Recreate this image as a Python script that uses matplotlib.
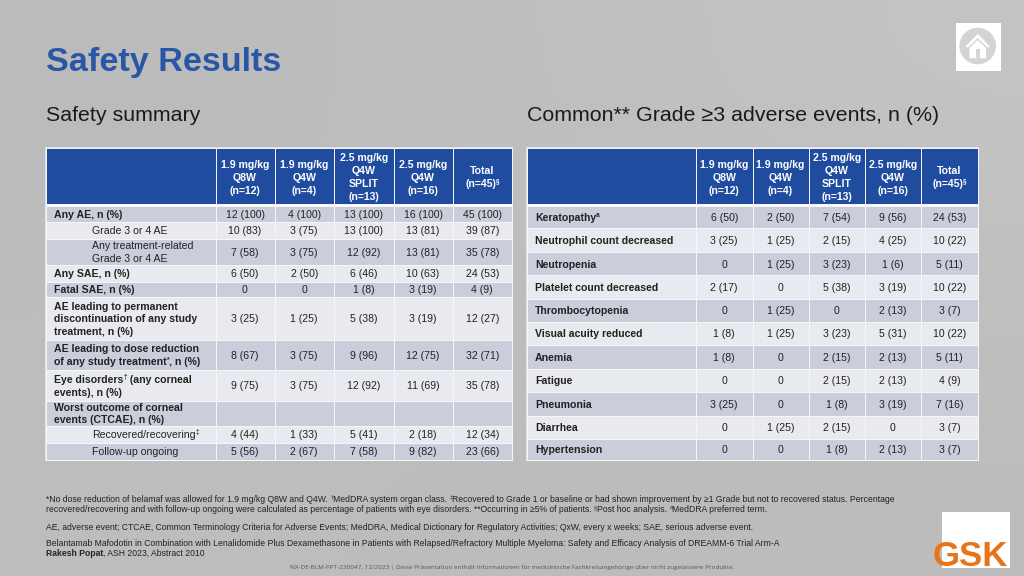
import numpy as np
import matplotlib
matplotlib.use("Agg")
import matplotlib.pyplot as plt
from matplotlib.patches import Rectangle, Circle, Polygon

plt.rcParams["font.family"] = ["Liberation Sans", "DejaVu Sans"]

# ---- data
headers = ["1.9 mg/kg\nQ8W\n(n=12)", "1.9 mg/kg\nQ4W\n(n=4)", "2.5 mg/kg\nQ4W\nSPLIT\n(n=13)",
           "2.5 mg/kg\nQ4W\n(n=16)", "Total\n(n=45)^§^"]

summary_labels = ["Any AE, n (%)", "Grade 3 or 4 AE", "Any treatment-related\nGrade 3 or 4 AE",
                  "Any SAE, n (%)", "Fatal SAE, n (%)",
                  "AE leading to permanent\ndiscontinuation of any study\ntreatment, n (%)",
                  "AE leading to dose reduction\nof any study treatment^*^, n (%)",
                  "Eye disorders^†^ (any corneal\nevents), n (%)",
                  "Worst outcome of corneal\nevents (CTCAE), n (%)",
                  "Recovered/recovering^‡^", "Follow-up ongoing"]
summary_indented = [1, 2, 9, 10]
summary_values = [
    ["12 (100)", "4 (100)", "13 (100)", "16 (100)", "45 (100)"],
    ["10 (83)", "3 (75)", "13 (100)", "13 (81)", "39 (87)"],
    ["7 (58)", "3 (75)", "12 (92)", "13 (81)", "35 (78)"],
    ["6 (50)", "2 (50)", "6 (46)", "10 (63)", "24 (53)"],
    ["0", "0", "1 (8)", "3 (19)", "4 (9)"],
    ["3 (25)", "1 (25)", "5 (38)", "3 (19)", "12 (27)"],
    ["8 (67)", "3 (75)", "9 (96)", "12 (75)", "32 (71)"],
    ["9 (75)", "3 (75)", "12 (92)", "11 (69)", "35 (78)"],
    ["", "", "", "", ""],
    ["4 (44)", "1 (33)", "5 (41)", "2 (18)", "12 (34)"],
    ["5 (56)", "2 (67)", "7 (58)", "9 (82)", "23 (66)"],
]

events_labels = ["Keratopathy^a^", "Neutrophil count decreased", "Neutropenia", "Platelet count decreased",
                 "Thrombocytopenia", "Visual acuity reduced", "Anemia", "Fatigue", "Pneumonia",
                 "Diarrhea", "Hypertension"]
events_values = [
    ["6 (50)", "2 (50)", "7 (54)", "9 (56)", "24 (53)"],
    ["3 (25)", "1 (25)", "2 (15)", "4 (25)", "10 (22)"],
    ["0", "1 (25)", "3 (23)", "1 (6)", "5 (11)"],
    ["2 (17)", "0", "5 (38)", "3 (19)", "10 (22)"],
    ["0", "1 (25)", "0", "2 (13)", "3 (7)"],
    ["1 (8)", "1 (25)", "3 (23)", "5 (31)", "10 (22)"],
    ["1 (8)", "0", "2 (15)", "2 (13)", "5 (11)"],
    ["0", "0", "2 (15)", "2 (13)", "4 (9)"],
    ["3 (25)", "0", "1 (8)", "3 (19)", "7 (16)"],
    ["0", "1 (25)", "2 (15)", "0", "3 (7)"],
    ["0", "0", "1 (8)", "2 (13)", "3 (7)"],
]

footnotes = [
    "*No dose reduction of belamaf was allowed for 1.9 mg/kg Q8W and Q4W. ^†^MedDRA system organ class. ^‡^Recovered to Grade 1 or baseline or had shown improvement by ≥1 Grade but not to recovered status. Percentage",
    "recovered/recovering and with follow-up ongoing were calculated as percentage of patients with eye disorders. **Occurring in ≥5% of patients. ^§^Post hoc analysis. ^a^MedDRA preferred term.",
    "AE, adverse event; CTCAE, Common Terminology Criteria for Adverse Events; MedDRA, Medical Dictionary for Regulatory Activities; QxW, every x weeks; SAE, serious adverse event.",
    "Belantamab Mafodotin in Combination with Lenalidomide Plus Dexamethasone in Patients with Relapsed/Refractory Multiple Myeloma: Safety and Efficacy Analysis of DREAMM-6 Trial Arm-A",
]
footnote_y = [502, 512.5, 529.5, 545.5]

# ---- layout (pixels)
summary_x = [46, 215.5, 274.5, 334, 393.5, 452.5, 512]
summary_y = [206, 222.2, 239, 264.6, 281.6, 297.2, 340, 370, 400.8, 425.6, 442.8, 459.5]
events_x = [527, 696, 752.5, 808.5, 865, 921, 978]
events_y = [206, 228.4, 252.2, 275.4, 298.6, 321.6, 345.4, 368.8, 392.2, 415.5, 438.8, 459.5]
header_top = 148
header_bottom = 204

BLUE = "#1f4c9e"
DARK = "#c9ceda"
LIGHT = "#e8eaef"
GRID = "#f6f7fa"
TEXT = "#222222"
SIZE = 7.6
NOTE = 6.19
LINE = 12.9

fig = plt.figure(figsize=(10.24, 5.76), dpi=100)
ax = fig.add_axes([0, 0, 1, 1])
ax.set_xlim(0, 1024)
ax.set_ylim(576, 0)
ax.axis("off")

# soft grey slide background
bg = np.array([[0.730, 0.740, 0.750, 0.765],
               [0.735, 0.740, 0.745, 0.755],
               [0.740, 0.740, 0.740, 0.745],
               [0.740, 0.738, 0.735, 0.735]])
ax.imshow(bg, cmap="gray", vmin=0, vmax=1, extent=[0, 1024, 576, 0], aspect="auto",
          interpolation="bicubic", zorder=0)
ax.set_xlim(0, 1024)
ax.set_ylim(576, 0)


def rich(x, y, s, size=SIZE, weight="normal", color=TEXT, ha="left"):
    # text with ^sup^ parts, y is the baseline
    r = fig.canvas.get_renderer()
    parts = s.split("^")
    items = []
    total = 0
    for i, p in enumerate(parts):
        if p == "":
            continue
        sup = i % 2 == 1
        t = ax.text(0, y - (size * 0.5 if sup else 0), p, fontsize=size * 0.62 if sup else size,
                    fontweight=weight, color=color, va="baseline", ha="left", zorder=5)
        # bars either side keep the blanks in the measured width
        probe = ax.text(0, 0, "|" + p + "|", fontsize=t.get_fontsize(), fontweight=weight, alpha=0)
        bar = ax.text(0, 0, "||", fontsize=t.get_fontsize(), fontweight=weight, alpha=0)
        w = probe.get_window_extent(r).width - bar.get_window_extent(r).width
        probe.remove()
        bar.remove()
        items.append((t, w))
        total += w
    start = x - total / 2 if ha == "center" else x
    for t, w in items:
        t.set_x(start)
        start += w
    return start


def block(x, yc, s, **kw):
    # several lines centred on yc
    lines = s.split("\n")
    for i, line in enumerate(lines):
        rich(x, yc + (i - (len(lines) - 1) / 2) * LINE + 3.8, line, **kw)


def draw_table(xs, ys, labels, values, indented):
    ax.add_patch(Rectangle((xs[0] - 1.2, header_top - 1.2), xs[-1] - xs[0] + 2.4, ys[-1] - header_top + 2.4,
                           fc="#dfe3ec", ec="none", zorder=1))
    ax.add_patch(Rectangle((xs[0], header_bottom), xs[-1] - xs[0], ys[0] - header_bottom,
                           fc="white", ec="none", zorder=2))
    for c in range(6):
        ax.add_patch(Rectangle((xs[c], header_top), xs[c + 1] - xs[c], header_bottom - header_top,
                               fc=BLUE, ec=GRID, lw=0.7, zorder=2))
        if c > 0:
            block((xs[c] + xs[c + 1]) / 2, (header_top + header_bottom) / 2 + 1, headers[c - 1],
                  color="white", weight="bold", ha="center")
    for r in range(len(labels)):
        fill = DARK if r % 2 == 0 else LIGHT
        for c in range(6):
            ax.add_patch(Rectangle((xs[c], ys[r]), xs[c + 1] - xs[c], ys[r + 1] - ys[r],
                                   fc=fill, ec=GRID, lw=0.7, zorder=2))
        yc = (ys[r] + ys[r + 1]) / 2
        if r in indented:
            block(xs[0] + 46, yc, labels[r])
        else:
            block(xs[0] + 8, yc, labels[r], weight="bold")
        for c in range(5):
            if values[r][c]:
                block((xs[c + 1] + xs[c + 2]) / 2, yc, values[r][c], ha="center")


# titles
ax.text(46, 71, "Safety Results", fontsize=24.6, fontweight="bold", color="#2a56a6", va="baseline", zorder=5)
ax.text(46, 121, "Safety summary", fontsize=15.4, color="#1a1a1a", va="baseline", zorder=5)
ax.text(527, 121, "Common** Grade ≥3 adverse events, n (%)", fontsize=15.4, color="#1a1a1a",
        va="baseline", zorder=5)

draw_table(summary_x, summary_y, summary_labels, summary_values, summary_indented)
draw_table(events_x, events_y, events_labels, events_values, [])

# footer text
for line, y in zip(footnotes, footnote_y):
    rich(46, y, line, size=NOTE)
end = rich(46, 556, "Rakesh Popat", size=NOTE, weight="bold")
rich(end, 556, ", ASH 2023, Abstract 2010", size=NOTE)
ax.text(512, 569, "NX-DE-BLM-PPT-230047, 12/2023 | Diese Präsentation enthält Informationen für medizinische "
        "Fachkreisangehörige über nicht zugelassene Produkte.", fontsize=4.63, color="#555555",
        family="Open Sans", ha="center", va="baseline", zorder=5)

# home button
ax.add_patch(Rectangle((956, 23), 45, 48, fc="white", ec="none", zorder=3))
ax.add_patch(Circle((977.7, 46), 18.3, fc="#d4d4d4", ec="none", zorder=4))
ax.add_patch(Polygon([(977.7, 34), (965.5, 46.5), (968, 47.5), (977.7, 38), (987.5, 47.5), (990, 46.5)],
                     fc="white", ec="none", zorder=5))
ax.add_patch(Polygon([(977.7, 40), (969.5, 48), (969.5, 58.3), (986, 58.3), (986, 48)],
                     fc="white", ec="none", zorder=5))
ax.add_patch(Rectangle((976, 49), 3.5, 9.3, fc="#d4d4d4", ec="none", zorder=6))

# GSK logo
ax.add_patch(Rectangle((942, 512), 68, 56, fc="white", ec="none", zorder=3))
ax.text(970.5, 566.5, "GSK", fontsize=25, fontweight="bold", color="#e8741a", ha="center", va="baseline", zorder=5)

fig.savefig("out.png", dpi=100)
